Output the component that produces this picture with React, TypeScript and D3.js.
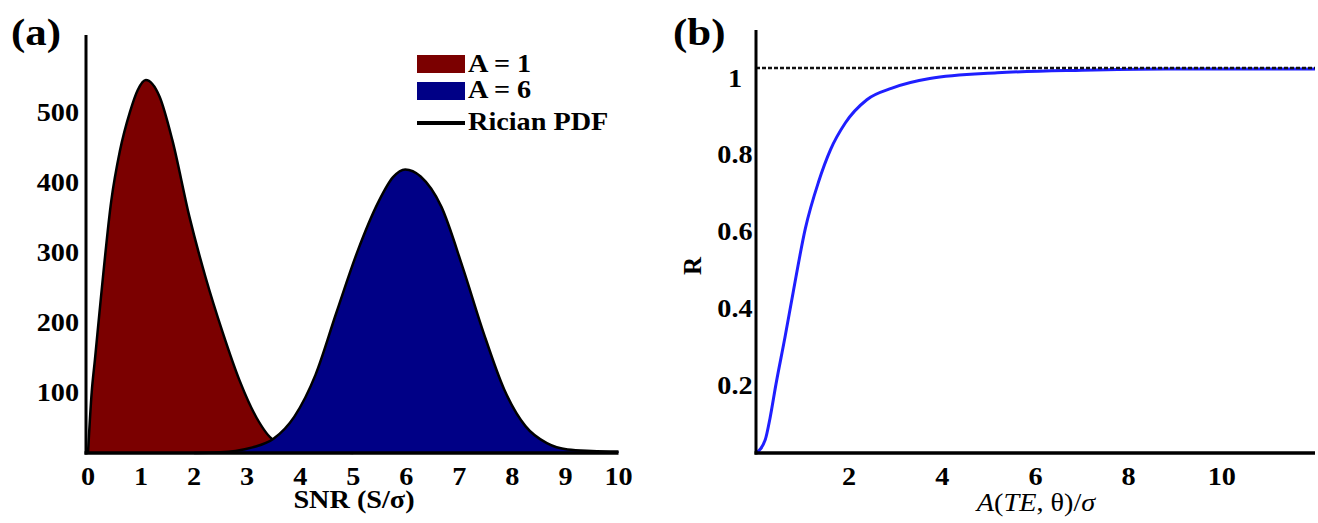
import React from "react";
import * as d3 from "d3";

// ---------- Panel (a) data ----------
const snrTicks = [0, 1, 2, 3, 4, 5, 6, 7, 8, 9, 10];
const countTicks = [100, 200, 300, 400, 500];
const redX = [0, 0.07, 0.13, 0.24, 0.44, 0.6, 0.79, 0.94, 1.09, 1.35, 1.59, 1.91, 2.22, 2.54, 2.86, 3.18, 3.49, 4.0, 4.5, 5.0];
const redY = [0, 87, 133, 219, 361, 431, 487, 519, 533, 509, 447, 338, 250, 172, 103, 50, 19, 7, 2, 0];
const blueX = [2.0, 2.5, 2.78, 3.1, 3.49, 3.89, 4.29, 4.68, 5.08, 5.47, 5.75, 5.98, 6.27, 6.66, 7.06, 7.46, 7.85, 8.25, 8.65, 9.04, 9.5, 10];
const blueY = [0, 1, 3, 8, 20, 52, 112, 200, 288, 358, 394, 405, 395, 352, 266, 171, 90, 38, 14, 5, 3, 2];
const legendLabels = ["A = 1", "A = 6", "Rician PDF"];

// ---------- Panel (b) data ----------
const ampTicks = [2, 4, 6, 8, 10];
const rTicks = [0.2, 0.4, 0.6, 0.8, 1];
const rX = [0, 0.2, 0.3, 0.43, 0.62, 0.8, 1.06, 1.34, 1.6, 1.92, 2.38, 2.92, 3.73, 5.18, 7.0, 8.8, 12];
const rY = [0, 0.035, 0.09, 0.18, 0.3, 0.42, 0.585, 0.705, 0.79, 0.86, 0.92, 0.95, 0.975, 0.99, 0.997, 1.0, 1.0];

const FONT = "'Liberation Serif', 'Times New Roman', serif";
const SX = 1.13;

function T(props: {
  x: number;
  y: number;
  size: number;
  anchor?: string;
  weight?: string;
  children: React.ReactNode;
}) {
  const { x, y, size, anchor = "start", weight = "bold", children } = props;
  return (
    <text
      transform={`translate(${x},${y}) scale(${SX},1)`}
      fontFamily={FONT}
      fontSize={size}
      fontWeight={weight}
      textAnchor={anchor}
      fill="#000"
    >
      {children}
    </text>
  );
}

export default function App() {
  // Panel (a) scales
  const xa = d3.scaleLinear().domain([0, 10]).range([88, 618.5]);
  const ya = d3.scaleLinear().domain([0, 100]).range([453, 383]);

  const redPts = redX.map((x, i) => [x, redY[i]] as [number, number]);
  const bluePts = blueX.map((x, i) => [x, blueY[i]] as [number, number]);

  const areaA = d3
    .area<[number, number]>()
    .x((d) => xa(d[0]))
    .y0(ya(0))
    .y1((d) => ya(d[1]))
    .curve(d3.curveMonotoneX);
  const lineA = d3
    .line<[number, number]>()
    .x((d) => xa(d[0]))
    .y((d) => ya(d[1]))
    .curve(d3.curveMonotoneX);

  // Panel (b) scales
  const xb = d3.scaleLinear().domain([0, 12]).range([756, 1315]);
  const yb = d3.scaleLinear().domain([0, 1]).range([453, 69]);
  const rPts = rX.map((x, i) => [x, rY[i]] as [number, number]);
  const lineB = d3
    .line<[number, number]>()
    .x((d) => xb(d[0]))
    .y((d) => yb(d[1]))
    .curve(d3.curveMonotoneX);

  const legendColors = ["#7b0000", "#000086"];

  return (
    <svg
      width={1318}
      height={523}
      style={{ position: "absolute", left: 0, top: 0, background: "#fff" }}
    >
      <rect x={0} y={0} width={1318} height={523} fill="#fff" />

      {/* ---------- Panel (a) ---------- */}
      <path d={areaA(redPts) || ""} fill="#7b0000" />
      <path d={lineA(redPts) || ""} fill="none" stroke="#000" strokeWidth={2.5} />
      <path d={areaA(bluePts) || ""} fill="#000086" />
      <path d={lineA(bluePts) || ""} fill="none" stroke="#000" strokeWidth={2.5} />

      {/* axes */}
      <line x1={86} y1={35} x2={86} y2={454.5} stroke="#000" strokeWidth={3} />
      <line x1={84.5} y1={453} x2={xa(10)} y2={453} stroke="#000" strokeWidth={3.5} />

      {snrTicks.map((t) => (
        <T key={"xa" + t} x={xa(t)} y={485} size={25} anchor="middle">
          {t}
        </T>
      ))}
      {countTicks.map((t) => (
        <T key={"ya" + t} x={79} y={ya(t) + 17.5} size={25} anchor="end">
          {t}
        </T>
      ))}
      <T x={354} y={508} size={25} anchor="middle">
        SNR (S/σ)
      </T>
      <T x={11} y={45} size={38} anchor="start">
        (a)
      </T>

      {/* legend */}
      {legendColors.map((c, i) => (
        <rect key={"lg" + i} x={417} y={55 + i * 27} width={48} height={18} fill={c} />
      ))}
      <line x1={417} y1={123} x2={465} y2={123} stroke="#000" strokeWidth={4} />
      {legendLabels.map((l, i) => (
        <T key={"ll" + i} x={468} y={[72, 98, 130][i]} size={25} anchor="start">
          {l}
        </T>
      ))}

      {/* ---------- Panel (b) ---------- */}
      <path d={lineB(rPts) || ""} fill="none" stroke="#1f1fff" strokeWidth={3} />
      <line
        x1={xb(0)}
        y1={yb(1) - 1}
        x2={xb(12)}
        y2={yb(1) - 1}
        stroke="#111"
        strokeWidth={2.5}
        strokeDasharray="4,2"
      />

      <line x1={756} y1={30} x2={756} y2={454.5} stroke="#000" strokeWidth={3} />
      <line x1={754.5} y1={453} x2={1315} y2={453} stroke="#000" strokeWidth={3.5} />

      {ampTicks.map((t) => (
        <T key={"xb" + t} x={xb(t)} y={485} size={25} anchor="middle">
          {t}
        </T>
      ))}
      {rTicks.map((t) => (
        <T key={"yb" + t} x={735} y={yb(t) + 17.5} size={25} anchor="middle">
          {t}
        </T>
      ))}
      <text
        transform="translate(701,266) rotate(-90)"
        fontFamily={FONT}
        fontSize={25}
        fontWeight="bold"
        textAnchor="middle"
      >
        R
      </text>
      <text
        transform={`translate(1036,511) scale(${SX},1)`}
        fontFamily={FONT}
        fontSize={25}
        textAnchor="middle"
      >
        <tspan fontStyle="italic">A</tspan>
        <tspan>(</tspan>
        <tspan fontStyle="italic">TE</tspan>
        <tspan>, θ)/</tspan>
        <tspan fontStyle="italic">σ</tspan>
      </text>
      <T x={673} y={45} size={38} anchor="start">
        (b)
      </T>
    </svg>
  );
}
